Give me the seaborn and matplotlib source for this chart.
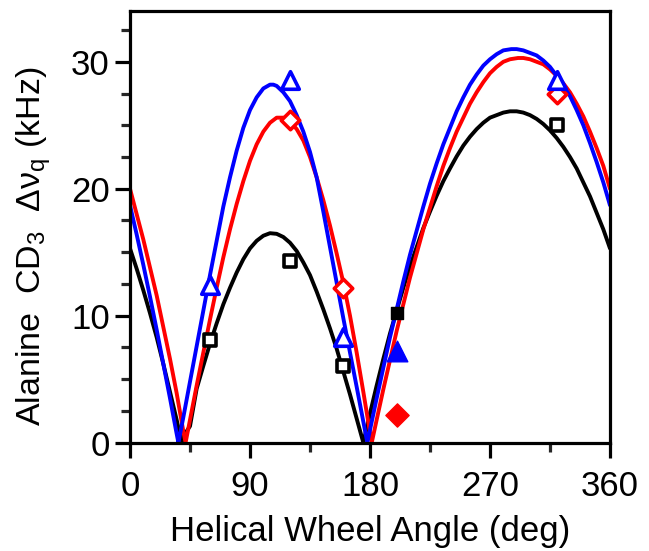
import numpy as np
import pandas as pd
import matplotlib
matplotlib.use("Agg")
import matplotlib.pyplot as plt
import seaborn as sns

# ---- fitted curves ----
black_angle = [0, 5, 10, 15, 20, 25, 30, 35, 38.7,
               40, 45, 50, 55, 60, 65, 70, 75, 80, 85, 90, 95, 100, 105, 110, 115, 120, 125, 130, 135, 140,
               145, 150, 155, 160, 165, 170, 175,
               180, 185, 190, 195, 200, 205, 210, 215, 220, 225, 230, 235, 240, 245, 250, 255, 260, 265, 270,
               275, 280, 285, 290, 295, 300, 305, 310, 315, 320, 325, 330, 335, 340, 345, 350, 355, 360]
black_value = [15.3, 13.7, 12.0, 10.2, 8.3, 6.2, 4.0, 1.8, 0.0,
               0.5, 1.3, 4.25, 6.05, 7.8, 9.4, 10.9, 12.2, 13.4, 14.45, 15.3, 15.9, 16.3, 16.5, 16.45, 16.2, 15.75,
               15.1, 14.2, 13.2, 11.9, 10.5, 9.0, 7.4, 5.6, 3.8, 1.9, 0.0,
               2.3, 4.5, 6.6, 8.6, 10.4, 12.2, 13.9, 15.4, 16.9, 18.2, 19.45, 20.6, 21.6, 22.55, 23.4, 24.1, 24.7,
               25.2, 25.6, 25.8, 26.0, 26.1, 26.1, 26.0, 25.8, 25.5, 25.1, 24.6, 24.0, 23.3, 22.5, 21.6, 20.5,
               19.4, 18.1, 16.8, 15.3]

red_angle = [0, 5, 10, 15, 20, 25, 30, 35, 40, 41.7,
             45, 50, 55, 60, 65, 70, 75, 80, 85, 90, 95, 100, 105, 110, 115, 120, 125, 130, 135, 140,
             145, 150, 155, 160, 165, 170, 175, 180, 181.3,
             185, 190, 195, 200, 205, 210, 215, 220, 225, 230, 235, 240, 245, 250, 255, 260, 265, 270,
             275, 280, 285, 291, 295, 300, 305, 310, 315, 320, 325, 330, 335, 340, 345, 350, 355, 360]
red_value = [20.0, 18.0, 16.0, 13.8, 11.6, 9.1, 6.6, 3.9, 0.9, 0.0,
             1.8, 4.5, 7.1, 9.7, 12.2, 14.6, 16.8, 18.8, 20.6, 22.2, 23.5, 24.5, 25.2, 25.6, 25.6, 25.3, 24.7,
             23.8, 22.5, 20.9, 19.1, 17.1, 14.9, 12.6, 10.0, 7.1, 4.0, 0.8, 0.0,
             1.8, 4.2, 6.5, 8.8, 10.9, 13.0, 14.9, 16.8, 18.5, 20.2, 21.8, 23.2, 24.5, 25.6, 26.7, 27.6, 28.4,
             29.1, 29.6, 30.0, 30.2, 30.3, 30.3, 30.2, 30.0, 29.8, 29.4, 28.9, 28.3, 27.6, 26.7, 25.7, 24.5,
             23.2, 21.8, 20.0]

blue_angle = [0, 5, 10, 15, 20, 25, 30, 35, 36.3,
              40, 45, 50, 55, 60, 65, 70, 75, 80, 85, 90, 95, 100, 105, 107.5, 110, 115, 120, 125, 130, 135,
              140, 145, 150, 155, 160, 165, 170, 175, 178,
              180, 185, 190, 195, 200, 205, 210, 215, 220, 225, 230, 235, 240, 245, 250, 255, 260, 265, 270,
              275, 280, 286, 290, 295, 300, 305, 310, 315, 320, 325, 330, 335, 340, 345, 350, 355, 360]
blue_value = [18.7, 16.4, 14.0, 11.5, 8.9, 6.2, 3.5, 0.7, 0.0,
              2.0, 4.8, 7.6, 10.4, 13.2, 15.9, 18.6, 20.9, 23.0, 24.8, 26.2, 27.2, 27.9, 28.2, 28.2, 28.1,
              27.6, 26.9, 25.8, 24.5, 22.9, 20.9, 18.2, 15.4, 12.6, 9.8, 7.1, 4.4, 1.65, 0.0,
              1.0, 3.5, 5.9, 8.3, 10.5, 12.7, 14.8, 16.7, 18.6, 20.4, 22.0, 23.5, 24.8, 26.1, 27.2, 28.2, 29.0,
              29.7, 30.2, 30.6, 30.9, 31.0, 31.0, 30.9, 30.7, 30.5, 30.1, 29.6, 28.9, 28.1, 27.3, 26.2, 25.0,
              23.6, 22.1, 20.5, 18.7]

# ---- measured points ----
open_angle = [60, 120, 160, 320]
black_open = [8.1, 14.3, 6.0, 25.0]
red_open_angle = [120, 160, 320]
red_open = [25.4, 12.2, 27.5]
blue_open = [12.4, 28.6, 8.3, 28.6]

filled_angle = [200]
black_filled = [10.2]
red_filled = [2.15]
blue_filled = [7.2]

x_ticks = [0, 90, 180, 270, 360]
y_ticks = [0, 10, 20, 30]

BLACK, RED, BLUE = "#000000", "#ff0000", "#0000ff"

sns.set_theme(style="ticks")
plt.rcParams["font.family"] = ["Liberation Sans", "DejaVu Sans"]
plt.rcParams["mathtext.fontset"] = "custom"
plt.rcParams["mathtext.rm"] = "Liberation Sans"
plt.rcParams["mathtext.it"] = "Liberation Sans:italic"

curves = pd.concat([
    pd.DataFrame({"angle": black_angle, "value": black_value, "series": "black"}),
    pd.DataFrame({"angle": red_angle, "value": red_value, "series": "red"}),
    pd.DataFrame({"angle": blue_angle, "value": blue_value, "series": "blue"}),
], ignore_index=True)
palette = {"black": BLACK, "red": RED, "blue": BLUE}

fig = plt.figure(figsize=(6.49, 5.51), dpi=100)
ax = fig.add_axes([0.2003, 0.1966, 0.7396, 0.7834])

sns.lineplot(data=curves, x="angle", y="value", hue="series", palette=palette,
             estimator=None, sort=True, legend=False, linewidth=2.8, ax=ax, zorder=2)
for ln in ax.get_lines():
    ln.set_solid_joinstyle("round")

mk = dict(zorder=3, legend=False, ax=ax)
sns.scatterplot(x=open_angle, y=black_open, marker="s", s=78, facecolor="white", edgecolor=BLACK, linewidth=2.6, **mk)
sns.scatterplot(x=red_open_angle, y=red_open, marker="D", s=88, facecolor="white", edgecolor=RED, linewidth=2.6, **mk)
sns.scatterplot(x=open_angle, y=blue_open, marker="^", s=160, facecolor="white", edgecolor=BLUE, linewidth=2.6, **mk)
sns.scatterplot(x=filled_angle, y=black_filled, marker="s", s=85, color=BLACK, edgecolor=BLACK, linewidth=1, **mk)
sns.scatterplot(x=filled_angle, y=red_filled, marker="D", s=140, color=RED, edgecolor=RED, linewidth=1, **mk)
sns.scatterplot(x=filled_angle, y=blue_filled, marker="^", s=220, color=BLUE, edgecolor=BLUE, linewidth=1, **mk)

ax.set_xlim(0, 360)
ax.set_ylim(0, 34)
ax.set_xticks(x_ticks)
ax.set_xticks(np.arange(45, 360, 90), minor=True)
ax.set_yticks(y_ticks)
ax.set_yticks([v for v in np.arange(0, 34, 2.5) if v % 10 != 0], minor=True)
ax.set_xticklabels([str(t) for t in x_ticks])
ax.set_yticklabels([str(t) for t in y_ticks])

for sp in ax.spines.values():
    sp.set_visible(True)
    sp.set_linewidth(2.3)
    sp.set_color("black")
ax.tick_params(which="major", direction="out", length=10.5, width=2.3, labelsize=25,
               colors="black", pad=4, top=False, right=False)
ax.tick_params(which="minor", direction="out", length=6.3, width=2.3, top=False, right=False)
ax.tick_params(axis="x", which="major", pad=9)

ax.set_xlabel("Helical Wheel Angle (deg)", fontsize=25, labelpad=9, color="black")
ax.set_ylabel(r"Alanine  CD$_\mathregular{3}$  Δν$_\mathregular{q}$ (kHz)", fontsize=24.5, color="black")
ax.yaxis.set_label_coords(-0.160, 0.455)

fig.savefig("out.png", dpi=100, facecolor="white")
